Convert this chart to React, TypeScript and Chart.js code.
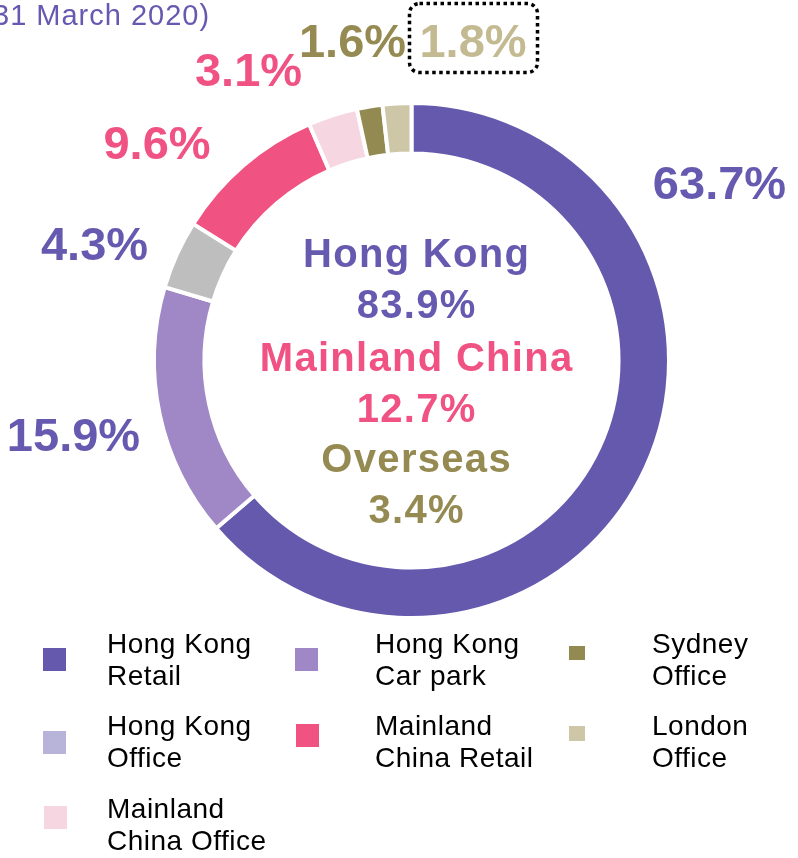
import React, { useEffect, useRef } from 'react';
import { Chart, registerables } from 'chart.js';

Chart.register(...registerables);

// ---- data ----
const SEGMENTS = [
  'Hong Kong Retail',
  'Hong Kong Car park',
  'Hong Kong Office',
  'Mainland China Retail',
  'Mainland China Office',
  'Sydney Office',
  'London Office',
];
const SHARES = [63.7, 15.9, 4.3, 9.6, 3.1, 1.6, 1.8];
const RING_COLORS = ['#6559AE', '#A087C6', '#BEBEBE', '#F05282', '#F6D6E0', '#938A52', '#CDC7A8'];
const LEGEND_COLORS = ['#6559AE', '#A087C6', '#B8B3D9', '#F05282', '#F6D6E0', '#938A52', '#CDC7A8'];
const LABEL_COLORS = ['#6659B0', '#6659B0', '#6659B0', '#EF5283', '#EF5283', '#958B52', '#C4BA92'];
const LEGEND_LINES = [
  ['Hong Kong', 'Retail'],
  ['Hong Kong', 'Car park'],
  ['Hong Kong', 'Office'],
  ['Mainland', 'China Retail'],
  ['Mainland', 'China Office'],
  ['Sydney', 'Office'],
  ['London', 'Office'],
];
const REGIONS = ['Hong Kong', 'Mainland China', 'Overseas'];
const REGION_SHARES = [83.9, 12.7, 3.4];
const REGION_COLORS = ['#6659B0', '#EF5283', '#958B52'];
const TITLE = '31 March 2020)';
const BOXED_INDEX = 6;

// ---- layout (positions only) ----
const W = 798;
const H = 858;
const FONT = '"Liberation Sans", Arial, sans-serif';
// label anchor: [centerX, baseline]
const LABEL_POS = [
  [719.5, 199],
  [73.5, 451],
  [94.5, 260],
  [157, 159],
  [248.5, 86],
  [352.5, 57],
  [473, 57],
];
// legend: [squareX, squareY, squareW, squareH, textX, firstBaseline]
const LEGEND_SLOTS = [
  [43, 648, 23, 23, 107, 653],
  [295, 648, 23, 23, 375, 653],
  [43, 731, 23, 23, 107, 735],
  [296, 724, 23, 23, 375, 735],
  [44, 806, 23, 23, 107, 818],
  [569, 646, 16, 14, 652, 653],
  [569, 726, 16, 15, 652, 735],
];
const CENTER_X = 416;
const CENTER_BASELINES = [267, 318, 371, 422, 472, 523];

const overlayPlugin = {
  id: 'overlay',
  afterDraw(chart: any) {
    const ctx = chart.ctx as CanvasRenderingContext2D;
    ctx.save();

    // title (partially cut at the left)
    ctx.font = `29px ${FONT}`;
    (ctx as any).letterSpacing = '1px';
    ctx.fillStyle = '#6659B0';
    ctx.textAlign = 'left';
    ctx.textBaseline = 'alphabetic';
    ctx.fillText(TITLE, -7, 25);
    (ctx as any).letterSpacing = '0px';

    // percentage labels
    ctx.font = `bold 47px ${FONT}`;
    ctx.textAlign = 'center';
    SHARES.forEach((v, i) => {
      const [x, y] = LABEL_POS[i];
      ctx.fillStyle = LABEL_COLORS[i];
      ctx.fillText(v.toFixed(1) + '%', x, y);
    });

    // dotted box around one label
    {
      const [x, y] = LABEL_POS[BOXED_INDEX];
      const bx = x - 63.5;
      const by = y - 53.5;
      ctx.beginPath();
      (ctx as any).roundRect(bx, by, 128, 69, 10);
      ctx.setLineDash([3.5, 3.5]);
      ctx.lineWidth = 3.5;
      ctx.strokeStyle = '#000';
      ctx.stroke();
      ctx.setLineDash([]);
    }

    // center text
    ctx.font = `bold 40px ${FONT}`;
    (ctx as any).letterSpacing = '1.3px';
    ctx.textAlign = 'center';
    REGIONS.forEach((r, i) => {
      ctx.fillStyle = REGION_COLORS[i];
      ctx.fillText(r, CENTER_X + 0.65, CENTER_BASELINES[i * 2]);
      ctx.fillText(REGION_SHARES[i].toFixed(1) + '%', CENTER_X + 0.65, CENTER_BASELINES[i * 2 + 1]);
    });

    // legend
    ctx.font = `28px ${FONT}`;
    (ctx as any).letterSpacing = '0.5px';
    ctx.textAlign = 'left';
    SEGMENTS.forEach((_, i) => {
      const [sx, sy, sw, sh, tx, tb] = LEGEND_SLOTS[i];
      ctx.fillStyle = LEGEND_COLORS[i];
      ctx.fillRect(sx, sy, sw, sh);
      ctx.fillStyle = '#000';
      LEGEND_LINES[i].forEach((line, j) => ctx.fillText(line, tx, tb + j * 32));
    });
    (ctx as any).letterSpacing = '0px';

    ctx.restore();
  },
};

export default function App() {
  const ref = useRef<HTMLCanvasElement | null>(null);

  useEffect(() => {
    if (!ref.current) return;
    const chart = new Chart(ref.current, {
      type: 'doughnut',
      data: {
        labels: SEGMENTS,
        datasets: [
          {
            data: SHARES,
            backgroundColor: RING_COLORS,
            borderColor: '#FFFFFF',
            borderWidth: 4,
            hoverBorderWidth: 4,
            hoverOffset: 0,
          },
        ],
      },
      options: {
        responsive: false,
        animation: false,
        devicePixelRatio: 1,
        cutout: '80.4%',
        rotation: 0,
        layout: { padding: { left: 152, top: 101, right: 127, bottom: 238 } },
        plugins: {
          legend: { display: false },
          tooltip: { enabled: false },
          title: { display: false },
        },
        events: [],
      },
      plugins: [overlayPlugin],
    });
    return () => chart.destroy();
  }, []);

  return (
    <div style={{ position: 'absolute', left: 0, top: 0, width: W, height: H, background: '#fff' }}>
      <canvas ref={ref} width={W} height={H} style={{ display: 'block', width: W, height: H }} />
    </div>
  );
}
